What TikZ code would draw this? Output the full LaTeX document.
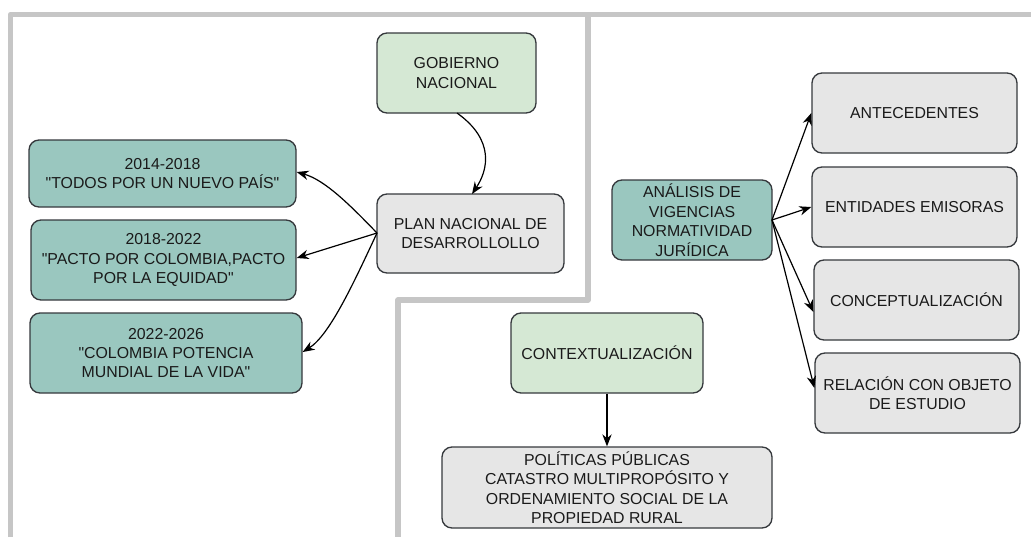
\documentclass[tikz,border=0pt]{standalone}
\usepackage{fontspec}
\setmainfont{Liberation Sans}[Ligatures=TeXOff]
\usetikzlibrary{arrows.meta}
\definecolor{gfill}{HTML}{D5E8D4}
\definecolor{tfill}{HTML}{9AC7BF}
\definecolor{xfill}{HTML}{E6E6E6}
\definecolor{bstroke}{HTML}{36393D}
\definecolor{frame}{HTML}{C6C6C6}
\definecolor{txt}{HTML}{1A1A1A}
\tikzset{
  x=0.75pt, y=-0.75pt,
  box/.style={draw=bstroke, line width=1pt, rounded corners=7.5pt, inner sep=0pt,
    align=center, text=txt, font=\fontsize{11.9}{14.6}\selectfont},
  greenbox/.style={box, fill=gfill},
  tealbox/.style={box, fill=tfill},
  graybox/.style={box, fill=xfill},
  conn/.style={-{Stealth[length=9pt,width=7pt]}, line width=0.9pt, black},
  framel/.style={draw=frame, line width=4pt, line join=round},
}
\newcommand{\boxat}[6]{% style, name, x1, y1, x2, y2
  \node[#1, minimum width=(#5-#3)*0.75pt, minimum height=(#6-#4)*0.75pt] (#2) at ({(#3+#5)/2},{(#4+#6)/2})}
\begin{document}
\begin{tikzpicture}
\useasboundingbox (0,0) rectangle (1031,537);
% frame lines
\draw[framel] (10.5,537) -- (10.5,14.5) -- (1031,14.5);
\draw[framel] (588,14.5) -- (588,300) -- (398,300) -- (398,537);
% left group
\boxat{greenbox}{gob}{377}{33}{536}{113} {GOBIERNO\\NACIONAL};
\boxat{graybox}{plan}{377}{194}{564}{273} {PLAN NACIONAL DE\\DESARROLLOLLO};
\boxat{tealbox}{p14}{29}{140}{296}{207} {2014-2018\\"TODOS POR UN NUEVO PAÍS"};
\boxat{tealbox}{p18}{31}{220}{296}{300} {2018-2022\\"PACTO POR COLOMBIA,PACTO\\POR LA EQUIDAD"};
\boxat{tealbox}{p22}{30}{313}{302}{393} {2022-2026\\"COLOMBIA POTENCIA\\MUNDIAL DE LA VIDA"};
% right group
\boxat{tealbox}{ana}{612}{180}{772}{260} {ANÁLISIS DE\\VIGENCIAS\\NORMATIVIDAD\\JURÍDICA};
\boxat{graybox}{ant}{812}{73}{1017}{153} {ANTECEDENTES};
\boxat{graybox}{ent}{812}{167}{1017}{247} {ENTIDADES EMISORAS};
\boxat{graybox}{con}{814}{260}{1019}{340} {CONCEPTUALIZACIÓN};
\boxat{graybox}{rel}{815}{353}{1020}{433} {RELACIÓN CON OBJETO\\DE ESTUDIO};
\boxat{greenbox}{ctx}{511}{313}{703}{393} {CONTEXTUALIZACIÓN};
\boxat{graybox}{pol}{442}{447}{772}{528} {POLÍTICAS PÚBLICAS\\CATASTRO MULTIPROPÓSITO Y\\ORDENAMIENTO SOCIAL DE LA\\PROPIEDAD RURAL};
% connectors
\coordinate (gobs) at (457,113);
\coordinate (plant) at (472,194);
\coordinate (planl) at (377,233);
\coordinate (anar) at (772,220);
\draw[conn] (gobs) .. controls (495,140) and (488,170) .. (plant);
\draw[conn] (planl) .. controls (350,205) and (325,180) .. (p14.east |- 0,172);
\draw[conn] (planl) -- (p18.east |- 0,258);
\draw[conn] (planl) .. controls (355,280) and (330,335) .. (p22.east |- 0,352);
\draw[conn] (anar) -- (ant.west |- 0,113);
\draw[conn] (anar) -- (ent.west |- 0,207);
\draw[conn] (anar) -- (con.west |- 0,312);
\draw[conn] (anar) -- (rel.west |- 0,388);
\draw[conn] (ctx.south) -- (ctx.south |- pol.north);
\end{tikzpicture}
\end{document}
